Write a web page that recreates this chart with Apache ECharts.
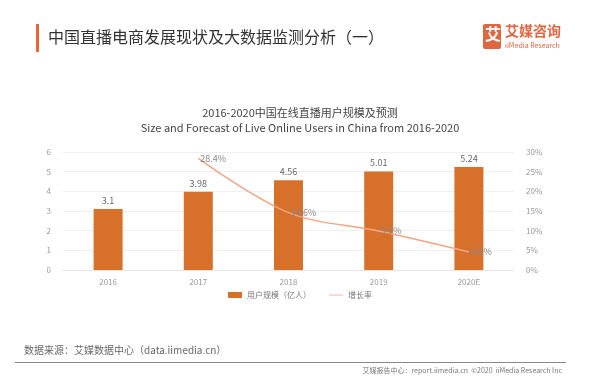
<!DOCTYPE html>
<html><head><meta charset="utf-8">
<script src="https://cdn.jsdelivr.net/npm/echarts@6/dist/echarts.min.js"></script>
<style>html,body{margin:0;padding:0;background:#fff}#c{width:600px;height:380px}</style>
</head><body><div id="c"></div>
<script>
const categories = ['2016','2017','2018','2019','2020E'];
const users = [3.1, 3.98, 4.56, 5.01, 5.24];
const growth = [null, 28.4, 14.6, 9.9, 4.6];
const leftTicks = [0,1,2,3,4,5,6];
const rightTicks = ['0%','5%','10%','15%','20%','25%','30%'];

const chart = echarts.init(document.getElementById('c'));
const font = '"Noto Sans CJK SC","Noto Sans",sans-serif';
chart.setOption({
  backgroundColor:'#fff',
  textStyle:{fontFamily:font},
  title:{
    text:'2016-2020中国在线直播用户规模及预测\nSize and Forecast of Live Online Users in China from 2016-2020',
    left:'center', top:100,
    textStyle:{fontSize:11, fontWeight:'normal', color:'#444', lineHeight:15, fontFamily:font}
  },
  legend:{
    bottom:76, left:'center', itemWidth:14, itemHeight:6, itemGap:18,
    textStyle:{fontSize:8, color:'#777'},
    data:[{name:'用户规模（亿人）', icon:'rect'},
          {name:'增长率', icon:'path://M0,0L20,0L20,1.2L0,1.2Z', itemStyle:{color:'#F2A584', opacity:1}}]
  },
  grid:{left:63, right:86, top:152, bottom:110},
  xAxis:{type:'category', data:categories,
    axisLine:{lineStyle:{color:'#e6e6e6'}}, axisTick:{show:false},
    axisLabel:{color:'#999', fontSize:8, margin:8}},
  yAxis:[
    {type:'value', min:0, max:6, interval:1,
     axisLine:{show:false}, axisTick:{show:false},
     axisLabel:{color:'#999', fontSize:8, margin:12},
     splitLine:{lineStyle:{color:'#f0f0f0'}}},
    {type:'value', min:0, max:30, interval:5,
     axisLine:{show:false}, axisTick:{show:false},
     axisLabel:{color:'#999', fontSize:8, margin:12, formatter:v=>rightTicks[v/5]},
     splitLine:{show:false}}
  ],
  series:[
    {name:'用户规模（亿人）', type:'bar', data:users, barWidth:29,
     itemStyle:{color:'#D7702B'},
     label:{show:true, position:'top', color:'#666', fontSize:9, distance:4}},
    {name:'增长率', type:'line', yAxisIndex:1, data:growth, smooth:0.35,
     showSymbol:true, symbol:'circle', symbolSize:2,
     lineStyle:{color:'#F2A584', width:1.5}, itemStyle:{color:'rgba(0,0,0,0)', borderWidth:0},
     label:{show:true, position:'right', distance:1, color:'#888', fontSize:9, formatter:p=>p.value+'%'}}
  ],
  graphic:[
    {type:'rect', shape:{x:36, y:24, width:3, height:28}, style:{fill:'#E8663A'}},
    {type:'text', left:48, top:29, style:{text:'中国直播电商发展现状及大数据监测分析（一）', fontSize:16, fill:'#333', fontFamily:font}},
    {type:'rect', shape:{x:483, y:24, width:18, height:25, r:2}, style:{fill:'#E0663F'}},
    {type:'text', left:485, top:26, style:{text:'艾', fontSize:16, fill:'#fff', fontWeight:'bold', fontFamily:font}},
    {type:'text', left:505, top:24, style:{text:'艾媒咨询', fontSize:14, fill:'#E0663F', fontWeight:'bold', fontFamily:font}},
    {type:'text', left:505, top:42, style:{text:'iiMedia Research', fontSize:7, fill:'#E0663F', fontFamily:font}},
    {type:'text', left:24, top:345, style:{text:'数据来源：艾媒数据中心（data.iimedia.cn）', fontSize:10, fill:'#666', fontFamily:font}},
    {type:'rect', shape:{x:15, y:362, width:551, height:1}, style:{fill:'#888'}},
    {type:'text', right:38, top:367, style:{text:'艾媒报告中心：report.iimedia.cn  ©2020  iiMedia Research Inc', fontSize:7, fill:'#777', fontFamily:font}}
  ]
});
</script></body></html>
